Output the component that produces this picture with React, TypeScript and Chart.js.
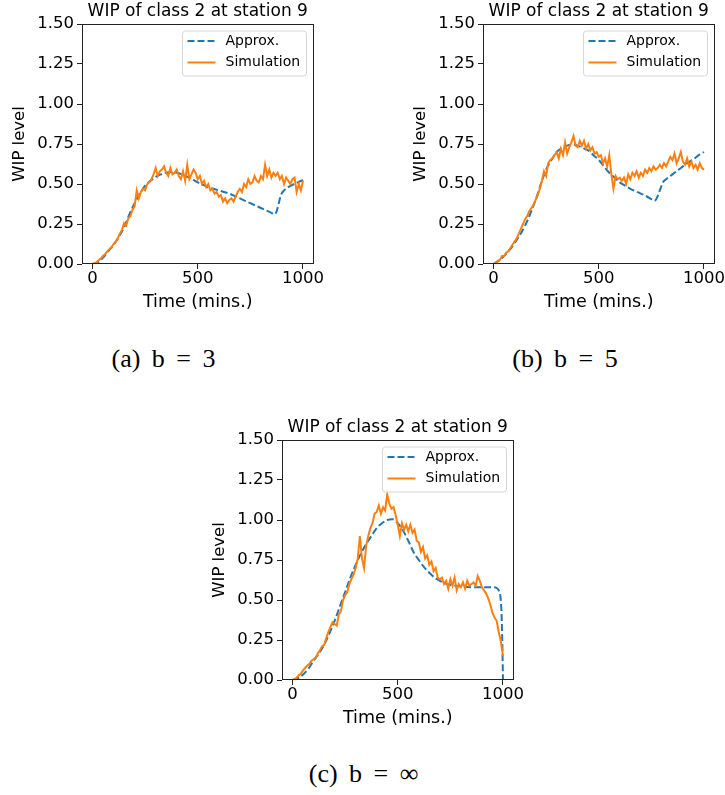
import React, { useEffect, useRef } from 'react';
import { Chart, registerables } from 'chart.js';

Chart.register(...registerables);

// ---------- text ----------
const TITLE = 'WIP of class 2 at station 9';
const X_LABEL = 'Time (mins.)';
const Y_LABEL = 'WIP level';
const X_TICKS = [0, 500, 1000];
const SERIES_NAMES = ['Approx.', 'Simulation'];
const CAPTIONS = ['(a) b = 3', '(b) b = 5', '(c) b = \u221E'];

// ---------- data ----------
const SIM_STEP = 10; // simulation sampled every 10 minutes, 0..1000

// (a) b = 3
const approxATimes = [0, 25, 50, 75, 100, 125, 150, 175, 200, 225, 250, 275, 300, 325, 350, 375, 400, 425, 450, 475, 500, 525, 550, 575, 600, 625, 650, 675, 700, 725, 750, 775, 800, 825, 850, 865, 875, 885, 895, 910, 930, 950, 975, 1000];
const approxAValues = [0, 0.01, 0.04, 0.08, 0.12, 0.17, 0.23, 0.31, 0.38, 0.44, 0.49, 0.52, 0.545, 0.56, 0.57, 0.575, 0.57, 0.56, 0.545, 0.53, 0.51, 0.495, 0.48, 0.47, 0.46, 0.45, 0.44, 0.425, 0.41, 0.395, 0.38, 0.365, 0.35, 0.335, 0.32, 0.31, 0.33, 0.38, 0.43, 0.46, 0.48, 0.495, 0.51, 0.525];
const simAValues = [
  0, 0.005, 0.012, 0.025, 0.035, 0.05, 0.062, 0.078, 0.092, 0.105,
  0.125, 0.14, 0.16, 0.19, 0.215, 0.255, 0.24, 0.285, 0.3, 0.34,
  0.36, 0.46, 0.41, 0.45, 0.47, 0.46, 0.5, 0.51, 0.53, 0.56,
  0.6, 0.55, 0.58, 0.59, 0.61, 0.57, 0.55, 0.6, 0.56, 0.57,
  0.59, 0.55, 0.53, 0.58, 0.52, 0.62, 0.53, 0.56, 0.59, 0.57,
  0.53, 0.55, 0.5, 0.52, 0.48, 0.5, 0.46, 0.47, 0.44, 0.45,
  0.42, 0.43, 0.39, 0.41, 0.38, 0.4, 0.41, 0.39, 0.42, 0.45,
  0.47, 0.45, 0.5, 0.48, 0.53, 0.5, 0.51, 0.55, 0.52, 0.51,
  0.55, 0.53, 0.62, 0.55, 0.59, 0.54, 0.57, 0.55, 0.57, 0.53,
  0.55, 0.5, 0.54, 0.52, 0.5, 0.53, 0.54, 0.45, 0.5, 0.46,
  0.52,
];

// (b) b = 5
const approxBTimes = [0, 50, 100, 150, 200, 225, 250, 275, 300, 325, 350, 375, 400, 425, 450, 475, 500, 525, 550, 575, 600, 625, 650, 675, 700, 725, 750, 765, 775, 790, 805, 820, 850, 875, 900, 925, 950, 975, 1000];
const approxBValues = [0, 0.05, 0.13, 0.24, 0.4, 0.5, 0.59, 0.65, 0.7, 0.725, 0.74, 0.745, 0.74, 0.725, 0.71, 0.68, 0.65, 0.61, 0.57, 0.54, 0.51, 0.49, 0.47, 0.455, 0.44, 0.425, 0.405, 0.395, 0.41, 0.46, 0.51, 0.53, 0.56, 0.585, 0.61, 0.635, 0.655, 0.68, 0.7];
const simBValues = [
  0, 0.005, 0.015, 0.025, 0.05, 0.05, 0.07, 0.08, 0.1, 0.12,
  0.14, 0.16, 0.19, 0.22, 0.25, 0.28, 0.3, 0.33, 0.35, 0.37,
  0.4, 0.43, 0.47, 0.52, 0.58, 0.55, 0.63, 0.65, 0.66, 0.68,
  0.7, 0.66, 0.72, 0.68, 0.76, 0.69, 0.73, 0.76, 0.8, 0.74,
  0.73, 0.77, 0.74, 0.77, 0.72, 0.75, 0.71, 0.73, 0.69, 0.7,
  0.67, 0.68, 0.63, 0.66, 0.61, 0.68, 0.56, 0.47, 0.55, 0.53,
  0.54, 0.52, 0.54, 0.5, 0.56, 0.53, 0.57, 0.55, 0.58, 0.54,
  0.57, 0.55, 0.59, 0.57, 0.6, 0.58, 0.61, 0.59, 0.6, 0.62,
  0.6, 0.63, 0.61, 0.64, 0.67, 0.65, 0.69, 0.63, 0.66, 0.7,
  0.64, 0.62, 0.66, 0.61, 0.64, 0.6, 0.62, 0.59, 0.63, 0.6,
  0.59,
];

// (c) b = infinity
const approxCTimes = [0, 25, 50, 75, 100, 125, 150, 175, 200, 225, 250, 275, 300, 325, 350, 375, 400, 425, 450, 475, 500, 525, 550, 575, 600, 625, 650, 675, 700, 725, 750, 800, 850, 900, 950, 970, 980, 988, 993, 997, 1000];
const approxCValues = [0, 0.01, 0.035, 0.07, 0.12, 0.165, 0.22, 0.29, 0.37, 0.46, 0.55, 0.64, 0.72, 0.79, 0.85, 0.9, 0.95, 0.98, 1.0, 1.005, 0.98, 0.935, 0.87, 0.8, 0.75, 0.705, 0.67, 0.64, 0.62, 0.605, 0.595, 0.585, 0.58, 0.58, 0.58, 0.575, 0.56, 0.52, 0.42, 0.22, 0];
const simCValues = [
  0, 0.005, 0.015, 0.03, 0.04, 0.06, 0.075, 0.09, 0.1, 0.12,
  0.13, 0.14, 0.165, 0.185, 0.21, 0.22, 0.26, 0.3, 0.33, 0.36,
  0.35, 0.34, 0.41, 0.43, 0.5, 0.53, 0.55, 0.6, 0.63, 0.66,
  0.7, 0.76, 0.9, 0.76, 0.7, 0.84, 0.9, 0.95, 0.98, 1.04,
  1.05, 1.09, 1.04, 1.08, 1.06, 1.16, 1.1, 1.07, 1.08, 1.03,
  0.97, 0.9, 0.98, 0.94, 0.97, 0.93, 0.97, 0.92, 0.94, 0.87,
  0.86, 0.8, 0.83, 0.76, 0.78, 0.72, 0.74, 0.68, 0.7, 0.64,
  0.63, 0.64, 0.6, 0.62, 0.57, 0.63, 0.59, 0.64, 0.56, 0.6,
  0.58, 0.61, 0.57, 0.62, 0.59, 0.6, 0.61, 0.59, 0.65, 0.62,
  0.58, 0.56, 0.54, 0.51, 0.47, 0.42, 0.39, 0.37, 0.3, 0.24,
  0.15,
];

// ---------- style ----------
const BLUE = '#1f77b4';
const ORANGE = '#ff7f0e';
const FONT = '"DejaVu Sans", "Noto Sans", sans-serif';
const CW = 324;
const CH = 320;

const framePlugin = {
  id: 'mplFrame',
  afterDatasetsDraw(chart: any) {
    const { ctx, chartArea: a } = chart;
    ctx.save();
    ctx.strokeStyle = '#222';
    ctx.lineWidth = 1;
    ctx.strokeRect(Math.round(a.left) + 0.5, Math.round(a.top) + 0.5, Math.round(a.right - a.left) - 1, Math.round(a.bottom - a.top) - 1);
    ctx.restore();
  },
};

const textPlugin = {
  id: 'mplTexts',
  afterDraw(chart: any) {
    const { ctx, chartArea: a } = chart;
    ctx.save();
    ctx.fillStyle = '#000';
    ctx.font = `17px ${FONT}`;
    ctx.textAlign = 'center';
    ctx.textBaseline = 'middle';
    ctx.fillText(TITLE, (a.left + a.right) / 2, a.top - 12.5);
    // y-axis label
    ctx.translate(a.left - 62, (a.top + a.bottom) / 2);
    ctx.rotate(-Math.PI / 2);
    ctx.font = `16.5px ${FONT}`;
    ctx.fillText(Y_LABEL, 0, 0);
    ctx.restore();
  },
};

const legendPlugin = {
  id: 'mplLegend',
  afterDraw(chart: any) {
    const { ctx, chartArea: a } = chart;
    const w = 124;
    const h = 45;
    const x = a.right - 7 - w;
    const y = a.top + 7;
    ctx.save();
    const r = 3;
    ctx.beginPath();
    ctx.moveTo(x + r, y);
    ctx.lineTo(x + w - r, y);
    ctx.quadraticCurveTo(x + w, y, x + w, y + r);
    ctx.lineTo(x + w, y + h - r);
    ctx.quadraticCurveTo(x + w, y + h, x + w - r, y + h);
    ctx.lineTo(x + r, y + h);
    ctx.quadraticCurveTo(x, y + h, x, y + h - r);
    ctx.lineTo(x, y + r);
    ctx.quadraticCurveTo(x, y, x + r, y);
    ctx.closePath();
    ctx.fillStyle = 'rgba(255,255,255,0.8)';
    ctx.fill();
    ctx.strokeStyle = '#d6d6d6';
    ctx.lineWidth = 1;
    ctx.stroke();
    const order = [1, 0]; // Approx first, then Simulation (dataset indices)
    order.forEach((di, row) => {
      const ds = chart.data.datasets[di];
      const cy = y + 10 + row * 21.5;
      ctx.beginPath();
      ctx.setLineDash(ds.borderDash || []);
      ctx.strokeStyle = ds.borderColor;
      ctx.lineWidth = ds.borderWidth;
      ctx.moveTo(x + 5, cy);
      ctx.lineTo(x + 33, cy);
      ctx.stroke();
      ctx.setLineDash([]);
      ctx.fillStyle = '#000';
      ctx.font = `14px ${FONT}`;
      ctx.textAlign = 'left';
      ctx.textBaseline = 'middle';
      ctx.fillText(ds.label, x + 43, cy);
    });
    ctx.restore();
  },
};

function makeConfig(approxTimes: number[], approxValues: number[], simValues: number[]): any {
  return {
    type: 'line',
    data: {
      datasets: [
        {
          label: SERIES_NAMES[1],
          data: simValues.map((v, i) => ({ x: i * SIM_STEP, y: v })),
          borderColor: ORANGE,
          borderWidth: 2,
          pointRadius: 0,
          tension: 0,
          fill: false,
        },
        {
          label: SERIES_NAMES[0],
          data: approxTimes.map((t, i) => ({ x: t, y: approxValues[i] })),
          borderColor: BLUE,
          borderWidth: 2,
          borderDash: [7, 3],
          pointRadius: 0,
          cubicInterpolationMode: 'monotone',
          fill: false,
        },
      ],
    },
    options: {
      animation: false,
      responsive: false,
      devicePixelRatio: 1,
      events: [],
      layout: { padding: { top: 24, right: 10.5, bottom: 0, left: 0 } },
      plugins: {
        legend: { display: false },
        title: { display: false },
        tooltip: { enabled: false },
      },
      scales: {
        x: {
          type: 'linear',
          min: -50,
          max: 1050,
          afterBuildTicks: (s: any) => {
            s.ticks = X_TICKS.map((v) => ({ value: v }));
          },
          afterFit: (s: any) => {
            s.height = 56;
            s.paddingLeft = 0;
            s.paddingRight = 0;
          },
          ticks: {
            autoSkip: false,
            maxRotation: 0,
            padding: 0,
            color: '#000',
            font: { family: FONT, size: 16.5 },
            callback: (v: any) => String(v),
          },
          grid: { drawOnChartArea: false, drawTicks: true, tickLength: 5, tickColor: '#222', tickWidth: 1 },
          border: { display: false },
          title: { display: true, text: X_LABEL, color: '#000', font: { family: FONT, size: 17.5 }, padding: { top: 0, bottom: 7.5 } },
        },
        y: {
          type: 'linear',
          min: 0,
          max: 1.5,
          afterFit: (s: any) => {
            s.width = 82;
            s.paddingTop = 0;
            s.paddingBottom = 0;
          },
          ticks: {
            stepSize: 0.25,
            padding: 3,
            color: '#000',
            font: { family: FONT, size: 16.5 },
            callback: (v: any) => Number(v).toFixed(2),
          },
          grid: { drawOnChartArea: false, drawTicks: true, tickLength: 5, tickColor: '#222', tickWidth: 1 },
          border: { display: false },
          title: { display: false },
        },
      },
    },
    plugins: [framePlugin, textPlugin, legendPlugin],
  };
}

function WipChart(props: { left: number; top: number; approxTimes: number[]; approxValues: number[]; simValues: number[] }) {
  const ref = useRef<HTMLCanvasElement | null>(null);
  useEffect(() => {
    if (!ref.current) return;
    const chart = new Chart(ref.current, makeConfig(props.approxTimes, props.approxValues, props.simValues));
    return () => chart.destroy();
  }, []);
  return (
    <canvas
      ref={ref}
      width={CW}
      height={CH}
      style={{ position: 'absolute', left: props.left, top: props.top, width: CW, height: CH }}
    />
  );
}

function Caption(props: { cx: number; top: number; text: string }) {
  return (
    <div
      style={{
        position: 'absolute',
        left: props.cx - 100,
        width: 200,
        top: props.top,
        textAlign: 'center',
        fontFamily: '"Liberation Serif", "DejaVu Serif", serif',
        fontSize: 26,
        wordSpacing: 5,
        whiteSpace: 'nowrap',
        color: '#000',
      }}
    >
      {props.text}
    </div>
  );
}

export default function App() {
  return (
    <div style={{ position: 'absolute', left: 0, top: 0, width: 725, height: 795, background: '#fff', overflow: 'hidden' }}>
      <WipChart left={0} top={0} approxTimes={approxATimes} approxValues={approxAValues} simValues={simAValues} />
      <WipChart left={401} top={0} approxTimes={approxBTimes} approxValues={approxBValues} simValues={simBValues} />
      <WipChart left={200} top={416} approxTimes={approxCTimes} approxValues={approxCValues} simValues={simCValues} />
      <Caption cx={163.5} top={344} text={CAPTIONS[0]} />
      <Caption cx={565} top={344} text={CAPTIONS[1]} />
      <Caption cx={363.5} top={759} text={CAPTIONS[2]} />
    </div>
  );
}
